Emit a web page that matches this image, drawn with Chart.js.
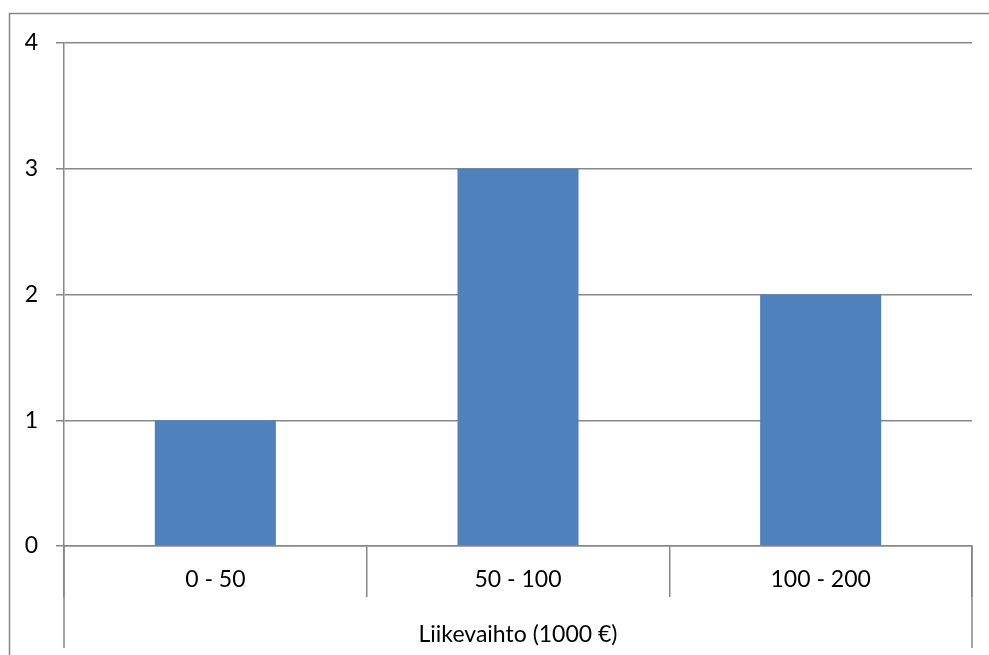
<!DOCTYPE html>
<html>
<head>
<meta charset="utf-8">
<script src="https://cdn.jsdelivr.net/npm/chart.js@4/dist/chart.umd.min.js"></script>
<style>
  html, body { margin: 0; padding: 0; background: #fff; }
  #wrap { width: 989px; height: 655px; position: relative; }
</style>
</head>
<body>
<div id="wrap"><canvas id="c" width="989" height="655"></canvas></div>
<script>
const categories = ['0 - 50', '50 - 100', '100 - 200'];
const counts = [1, 3, 2];
const yTicks = [0, 1, 2, 3, 4];
const xTitle = 'Liikevaihto (1000 €)';

const GRID = '#878787';
const FONT = { family: 'Lato', size: 23 };

const framePlugin = {
  id: 'frame',
  beforeDraw(chart) {
    const ctx = chart.ctx;
    ctx.save();
    ctx.strokeStyle = GRID;
    ctx.lineWidth = 1.5;
    ctx.strokeRect(9.5, 13.5, 2000, 2000);
    ctx.restore();
  },
  afterDraw(chart) {
    const ctx = chart.ctx;
    const a = chart.chartArea;
    ctx.save();
    ctx.strokeStyle = GRID;
    ctx.lineWidth = 1.5;
    ctx.beginPath();
    ctx.moveTo(a.left, a.bottom);
    ctx.lineTo(a.left, a.bottom + 102);
    ctx.moveTo(a.right, a.bottom);
    ctx.lineTo(a.right, a.bottom + 102);
    ctx.stroke();
    ctx.restore();
  }
};

new Chart(document.getElementById('c'), {
  type: 'bar',
  data: {
    labels: categories,
    datasets: [{
      data: counts,
      backgroundColor: '#4F81BD',
      borderWidth: 0,
      barPercentage: 0.4,
      categoryPercentage: 1.0
    }]
  },
  options: {
    responsive: false,
    animation: false,
    events: [],
    layout: { padding: { top: 43, right: 17, left: 0, bottom: 0 } },
    plugins: { legend: { display: false }, tooltip: { enabled: false } },
    scales: {
      x: {
        grid: {
          offset: true,
          drawOnChartArea: false,
          drawTicks: true,
          tickLength: 51,
          color: GRID,
          lineWidth: 1.5
        },
        border: { display: true, color: GRID, width: 1.5 },
        ticks: { color: '#000', font: FONT, padding: -31, maxRotation: 0 },
        title: { display: true, text: xTitle, color: '#000', font: FONT, padding: { top: 0, bottom: 7 } },
        afterFit(scale) { scale.height = 109; }
      },
      y: {
        min: 0,
        max: 4,
        afterBuildTicks(scale) { scale.ticks = yTicks.map(v => ({ value: v })); },
        grid: { color: GRID, lineWidth: 1.5, tickLength: 8, drawTicks: true },
        border: { display: true, color: GRID, width: 1.5 },
        ticks: { color: '#000', font: FONT, padding: 18 },
        afterFit(scale) { scale.width = 64; }
      }
    }
  },
  plugins: [framePlugin]
});
</script>
</body>
</html>
